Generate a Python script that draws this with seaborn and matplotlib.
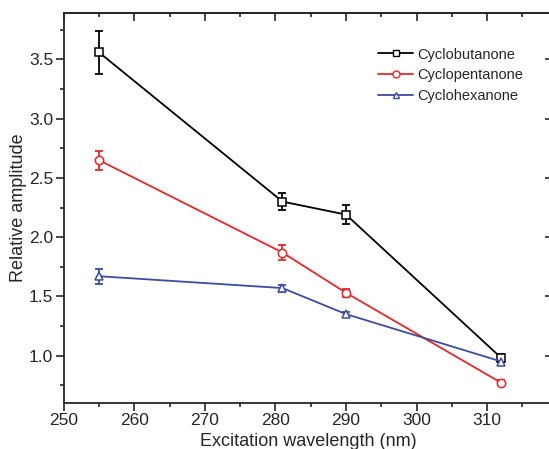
import matplotlib
matplotlib.use("Agg")
import matplotlib.pyplot as plt
import matplotlib.ticker as mtick
from matplotlib.lines import Line2D
import pandas as pd
import seaborn as sns

# Values
wavelengths = [255, 281, 290, 312]
compounds = ["Cyclobutanone", "Cyclopentanone", "Cyclohexanone"]
butanone = [3.56, 2.30, 2.19, 0.98]
butanone_err = [0.18, 0.07, 0.08, 0.03]
pentanone = [2.65, 1.87, 1.53, 0.77]
pentanone_err = [0.08, 0.06, 0.035, 0.02]
hexanone = [1.67, 1.57, 1.35, 0.95]
hexanone_err = [0.065, 0.03, 0.02, 0.03]

colors = ["black", "#e8262a", "#3d4ba3"]
markers = ["s", "o", "^"]

sns.set_theme(style="ticks")
plt.rcParams["font.family"] = ["Liberation Sans", "DejaVu Sans"]

rows = []
for name, vals, errs in zip(compounds, [butanone, pentanone, hexanone],
                            [butanone_err, pentanone_err, hexanone_err]):
    for w, v, e in zip(wavelengths, vals, errs):
        rows.append({"wavelength": w, "amplitude": v, "err": e, "compound": name})
df = pd.DataFrame(rows)

fig = plt.figure(figsize=(5.49, 4.49), dpi=100)
ax = fig.add_axes([0.116, 0.1025, 0.891, 0.868])

# error bars first, so the open markers sit on top of them
for name, c in zip(compounds, colors):
    sub = df[df["compound"] == name]
    ax.errorbar(sub["wavelength"], sub["amplitude"], yerr=sub["err"], fmt="none",
                ecolor=c, elinewidth=1.3, capsize=3, capthick=1.3, zorder=2)

sns.lineplot(data=df, x="wavelength", y="amplitude", hue="compound", style="compound",
             hue_order=compounds, style_order=compounds, palette=colors,
             markers=markers, dashes=False, markersize=6,
             linewidth=1.3, ax=ax, zorder=3, legend=False)

# seaborn draws white marker edges: make the markers open and coloured
for line, c in zip(ax.lines[-3:], colors):
    line.set_markeredgecolor(c)
    line.set_markerfacecolor("white")
    line.set_markeredgewidth(1.1)

ax.set_xlim(250, 319.3)
ax.set_ylim(0.6, 3.89)
ax.xaxis.set_major_locator(mtick.MultipleLocator(10))
ax.xaxis.set_minor_locator(mtick.MultipleLocator(5))
ax.yaxis.set_major_locator(mtick.MultipleLocator(0.5))
ax.yaxis.set_minor_locator(mtick.MultipleLocator(0.25))
ax.yaxis.set_major_formatter(mtick.FormatStrFormatter("%.1f"))

ax.tick_params(which="both", direction="out", labelsize=12.5, width=1.2, pad=2)
ax.tick_params(which="major", length=5.5)
ax.tick_params(which="minor", length=3)
for s in ax.spines.values():
    s.set_visible(True)
    s.set_linewidth(1.3)

# inward ticks on top and right, as in the original
top = ax.secondary_xaxis("top")
top.xaxis.set_major_locator(mtick.MultipleLocator(10))
top.xaxis.set_minor_locator(mtick.MultipleLocator(5))
top.tick_params(which="both", direction="in", labeltop=False, width=1.2)
top.tick_params(which="major", length=5.5)
top.tick_params(which="minor", length=3)
right = ax.secondary_yaxis("right")
right.yaxis.set_major_locator(mtick.MultipleLocator(0.5))
right.yaxis.set_minor_locator(mtick.MultipleLocator(0.25))
right.tick_params(which="both", direction="in", labelright=False, width=1.2)
right.tick_params(which="major", length=5.5)
right.tick_params(which="minor", length=3)

ax.set_xlabel("Excitation wavelength (nm)", fontsize=13, labelpad=3)
ax.set_ylabel("Relative amplitude", fontsize=13)
ax.yaxis.set_label_coords(-0.075, 0.5)

handles = [Line2D([], [], color=c, marker=m, markersize=5, markerfacecolor="white",
                  markeredgecolor=c, markeredgewidth=1.0, linewidth=1.3)
           for c, m in zip(colors, markers)]
ax.legend(handles, compounds, loc="upper left", bbox_to_anchor=(0.643, 0.912), frameon=False,
          fontsize=10.5, handlelength=2.4, labelspacing=0.45, handletextpad=0.3,
          borderpad=0, borderaxespad=0)

fig.savefig("out.png", dpi=100)
